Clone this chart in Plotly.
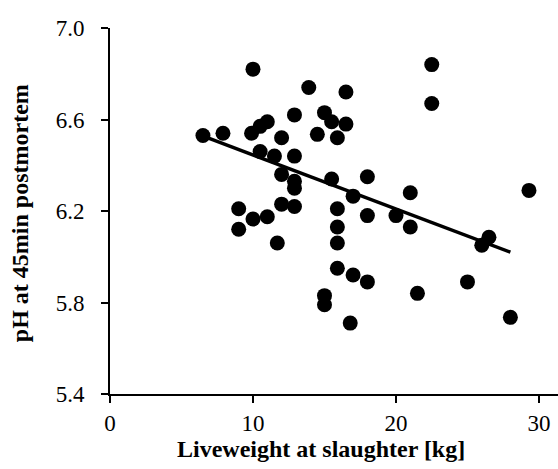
import plotly.graph_objects as go

# Data
liveweight = [6.5, 7.9, 10.0, 9.9, 10.5, 11.0, 12.0, 12.9, 13.9, 10.5, 11.5, 12.9,
              12.0, 14.5, 16.5, 15.0, 15.5, 16.5, 15.9, 22.5, 22.5, 15.5, 18.0,
              12.9, 12.9, 9.0, 10.0, 11.0, 12.0, 12.9, 9.0, 11.7,
              17.0, 21.0, 15.9, 18.0, 20.0, 21.0, 15.9, 15.9, 15.9, 17.0, 18.0,
              15.0, 15.0, 16.8, 21.5, 29.3, 26.5, 26.0, 25.0, 28.0]
ph45 = [6.53, 6.54, 6.82, 6.54, 6.57, 6.59, 6.52, 6.62, 6.74, 6.46, 6.44, 6.44,
        6.36, 6.535, 6.72, 6.63, 6.59, 6.58, 6.52, 6.84, 6.67, 6.34, 6.35,
        6.33, 6.30, 6.21, 6.165, 6.175, 6.23, 6.22, 6.12, 6.06,
        6.265, 6.28, 6.21, 6.18, 6.18, 6.13, 6.13, 6.06, 5.95, 5.92, 5.89,
        5.83, 5.79, 5.71, 5.84, 6.29, 6.085, 6.05, 5.89, 5.735]

trend_x = [6.2, 28.0]
trend_y = [6.535, 6.02]

x_ticks = [0, 10, 20, 30]
y_ticks = [5.4, 5.8, 6.2, 6.6, 7.0]
y_tick_labels = ["5.4", "5.8", "6.2", "6.6", "7.0"]

x_title = "Liveweight at slaughter [kg]"
y_title = "pH at 45min postmortem"

font_family = "Liberation Serif"

fig = go.Figure()
fig.add_trace(go.Scatter(
    x=liveweight, y=ph45, mode="markers",
    marker=dict(color="black", size=15, line=dict(width=0)),
    showlegend=False, hoverinfo="skip"))
fig.add_trace(go.Scatter(
    x=trend_x, y=trend_y, mode="lines",
    line=dict(color="black", width=3.5),
    showlegend=False, hoverinfo="skip"))

fig.update_layout(
    width=558, height=469,
    margin=dict(l=110, r=0, t=28, b=75),
    paper_bgcolor="white", plot_bgcolor="white",
    font=dict(family=font_family, size=23, color="black"),
)
fig.update_xaxes(
    range=[0, 31.33], tickvals=x_ticks, ticktext=[str(v) for v in x_ticks],
    showgrid=False, zeroline=False, showline=True, linecolor="black", linewidth=2,
    ticks="outside", ticklen=7, tickwidth=2, tickcolor="black",
    tickfont=dict(family=font_family, size=23, color="black"),
    ticklabelstandoff=0,
)
fig.update_yaxes(
    range=[5.4, 7.0], tickvals=y_ticks, ticktext=y_tick_labels,
    showgrid=False, zeroline=False, showline=True, linecolor="black", linewidth=2,
    ticks="outside", ticklen=7, tickwidth=2, tickcolor="black",
    tickfont=dict(family=font_family, size=23, color="black"),
    ticklabelstandoff=12,
)

fig.add_annotation(
    text="<b>" + x_title + "</b>", xref="paper", yref="paper",
    x=0.471, y=-0.150, xanchor="center", yanchor="middle", showarrow=False,
    font=dict(family=font_family, size=24, color="black"))
fig.add_annotation(
    text="<b>" + y_title + "</b>", xref="paper", yref="paper", textangle=-90,
    x=-0.2009, y=0.494, xanchor="center", yanchor="middle", showarrow=False,
    font=dict(family=font_family, size=24, color="black"))

fig.write_html("out.html")
